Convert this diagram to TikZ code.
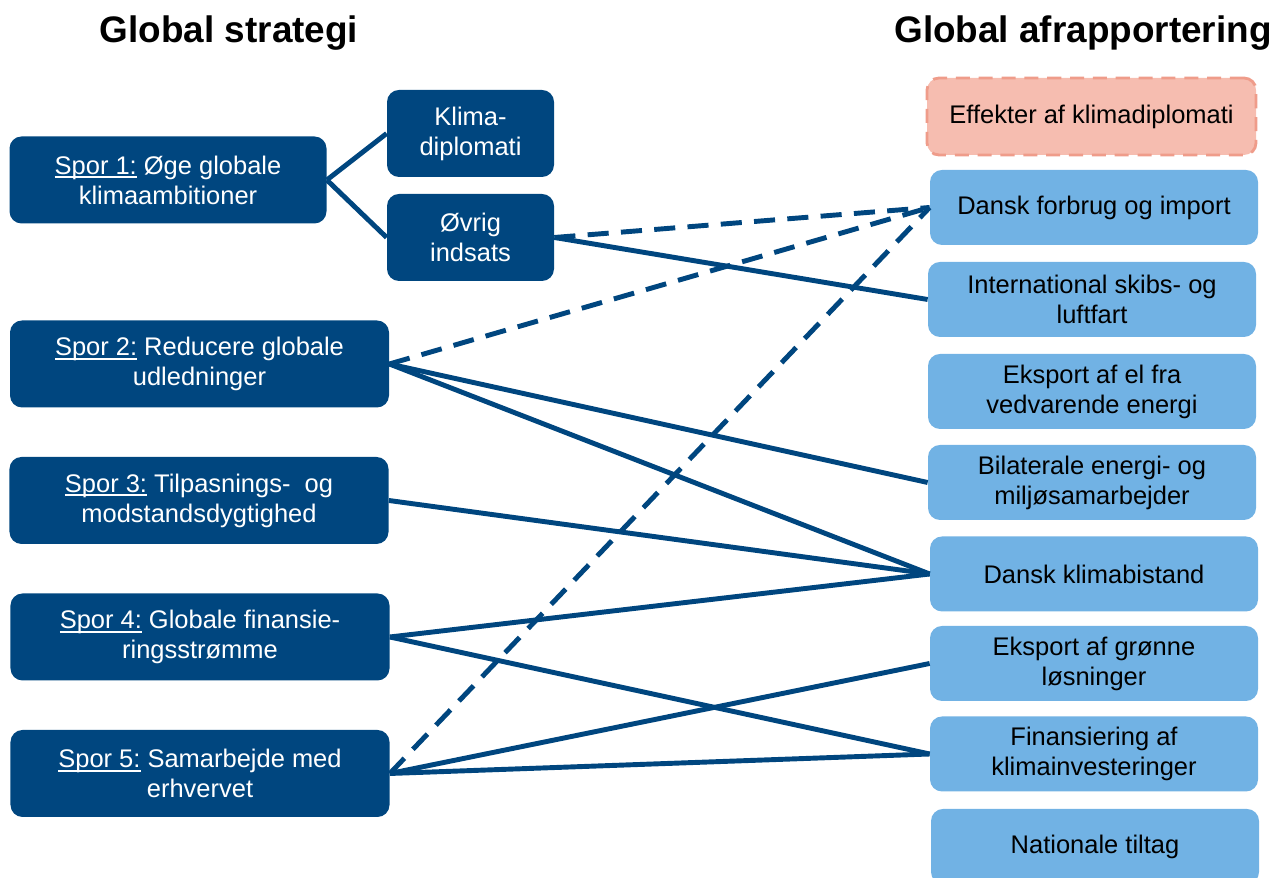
\documentclass[tikz,border=0pt]{standalone}
\usepackage{fontspec}
\setmainfont{Liberation Sans}
\usepackage{tikz}
\usetikzlibrary{positioning}

\definecolor{sporblue}{RGB}{0,70,127}
\definecolor{rapblue}{RGB}{113,178,228}
\definecolor{effektfill}{RGB}{246,189,176}
\definecolor{effektline}{RGB}{239,156,138}

% underlined track label
\newcommand\sporlabel[1]{\setbox0=\hbox{#1}\rlap{\rule[-2.2pt]{\wd0}{0.9pt}}\box0\relax}

\begin{document}
\begin{tikzpicture}[
				 sporbox/.style={rectangle, rounded corners=0.24cm, fill=sporblue, text=white, minimum width=7.58cm, minimum height=1.74cm, font=\fontsize{14.5}{17}\selectfont},
				 subbox/.style={sporbox, minimum width=3.34cm},
				 rapbox/.style={rectangle, rounded corners=0.24cm, fill=rapblue, text=black, minimum width=6.56cm, minimum height=1.5cm, font=\fontsize{14.5}{17}\selectfont},
				 effektbox/.style={rapbox, fill=effektfill, draw=effektline, line width=1.6pt, dash pattern=on 8pt off 5pt},
				 titletext/.style={font=\fontsize{21}{25}\selectfont\bfseries},
				 link/.style={draw=sporblue, line width=2.8pt},
				 dashlink/.style={link, dash pattern=on 12pt off 7pt},
				 ]
				 \useasboundingbox (0,0) rectangle (25.48,17.56);

				 % Titles
				 \node[titletext]						(title_left)			at (4.58, 16.9)		{Global strategi};
				 \node[titletext]						(title_right)			at (21.66, 16.9)	{Global afrapportering};

				 % Strategy
				 \node[sporbox, align=center, minimum width=6.34cm]	(spor1)		at (3.36, 13.96)	{\sporlabel{Spor 1:} Øge globale\\klimaambitioner};
				 \node[subbox, align=center]			(klimadipl)				at (9.41, 14.89)	{Klima-\\diplomati};
				 \node[subbox, align=center]			(oevrig)				at (9.41, 12.81)	{Øvrig\\indsats};
				 \node[sporbox, align=center]			(spor2)					at (3.99, 10.28)	{\sporlabel{Spor 2:} Reducere globale\\udledninger};
				 \node[sporbox, align=center]			(spor3)					at (3.98, 7.55)		{\sporlabel{Spor 3:} Tilpasnings-~ og\\modstandsdygtighed};
				 \node[sporbox, align=center]			(spor4)					at (4.0, 4.82)		{\sporlabel{Spor 4:} Globale finansie-\\ringsstrømme};
				 \node[sporbox, align=center]			(spor5)					at (4.0, 2.09)		{\sporlabel{Spor 5:} Samarbejde med\\erhvervet};

				 % Reporting
				 \node[effektbox, align=center, minimum width=6.58cm, minimum height=1.54cm]	(effekter)	at (21.83, 15.23)	{Effekter af klimadiplomati};
				 \node[rapbox, align=center]			(forbrug)				at (21.88, 13.41)	{Dansk forbrug og import};
				 \node[rapbox, align=center]			(skibsfart)				at (21.84, 11.57)	{International skibs- og\\luftfart};
				 \node[rapbox, align=center]			(eleksport)				at (21.84, 9.73)	{Eksport af el fra\\vedvarende energi};
				 \node[rapbox, align=center]			(bilaterale)			at (21.84, 7.91)	{Bilaterale energi- og\\miljøsamarbejder};
				 \node[rapbox, align=center]			(klimabistand)			at (21.88, 6.08)	{Dansk klimabistand};
				 \node[rapbox, align=center]			(groenne)				at (21.88, 4.29)	{Eksport af grønne\\løsninger};
				 \node[rapbox, align=center]			(finansiering)			at (21.88, 2.48)	{Finansiering af\\klimainvesteringer};
				 \node[rapbox, align=center]			(nationale)				at (21.9, 0.63)		{Nationale tiltag};

				 % Lines
				 \draw[link] (spor1.east)				--	(klimadipl.west);
				 \draw[link] (spor1.east)				--	(oevrig.west);
				 \draw[dashlink] (oevrig.east)			--	(forbrug.west);
				 \draw[link] (oevrig.east)				--	(skibsfart.west);
				 \draw[dashlink] (spor2.east)			--	(forbrug.west);
				 \draw[link] (spor2.east)				--	(bilaterale.west);
				 \draw[link] (spor2.east)				--	(klimabistand.west);
				 \draw[link] (spor3.east)				--	(klimabistand.west);
				 \draw[link] (spor4.east)				--	(klimabistand.west);
				 \draw[link] (spor4.east)				--	(finansiering.west);
				 \draw[dashlink] (spor5.east)			--	(forbrug.west);
				 \draw[link] (spor5.east)				--	(groenne.west);
				 \draw[link] (spor5.east)				--	(finansiering.west);
\end{tikzpicture}
\end{document}
